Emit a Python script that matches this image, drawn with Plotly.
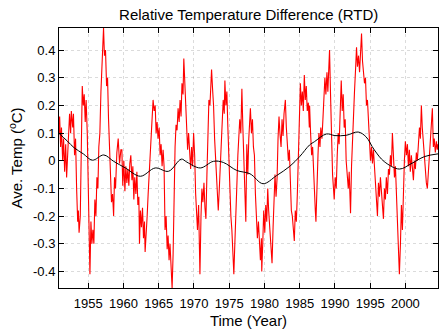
import plotly.graph_objects as go

# Monthly-resolution relative temperature difference (degC)
red_years = [
    1950.85, 1950.94, 1951.08, 1951.2, 1951.37, 1951.5, 1951.65, 1951.8, 1951.93, 1952.07,
    1952.2, 1952.35, 1952.5, 1952.6, 1952.8, 1952.9, 1953.06, 1953.2, 1953.35, 1953.5,
    1953.6, 1953.7, 1953.87, 1954.0, 1954.15, 1954.3, 1954.43, 1954.57, 1954.7, 1954.86,
    1955.0, 1955.15, 1955.24, 1955.38, 1955.52, 1955.66, 1955.8, 1955.94, 1956.09, 1956.23,
    1956.37, 1956.5, 1956.65, 1956.8, 1956.94, 1957.08, 1957.17, 1957.3, 1957.45, 1957.6,
    1957.74, 1957.88, 1958.0, 1958.17, 1958.3, 1958.45, 1958.6, 1958.73, 1958.87, 1959.06,
    1959.25, 1959.44, 1959.63, 1959.77, 1959.9, 1960.05, 1960.2, 1960.33, 1960.48, 1960.62,
    1960.76, 1960.9, 1961.04, 1961.2, 1961.33, 1961.47, 1961.6, 1961.76, 1961.9, 1962.04,
    1962.18, 1962.27, 1962.4, 1962.55, 1962.7, 1962.84, 1962.98, 1963.07, 1963.2, 1963.36,
    1963.5, 1963.64, 1963.78, 1963.92, 1964.06, 1964.2, 1964.35, 1964.5, 1964.63, 1964.77,
    1964.9, 1965.06, 1965.2, 1965.34, 1965.48, 1965.62, 1965.76, 1965.9, 1966.05, 1966.2,
    1966.33, 1966.47, 1966.6, 1966.75, 1966.9, 1967.04, 1967.18, 1967.32, 1967.46, 1967.6,
    1967.75, 1967.9, 1968.03, 1968.17, 1968.3, 1968.45, 1968.56, 1968.68, 1968.82, 1968.96,
    1969.1, 1969.24, 1969.39, 1969.53, 1969.67, 1969.8, 1969.95, 1970.1, 1970.24, 1970.38,
    1970.5, 1970.66, 1970.76, 1970.85, 1971.0, 1971.13, 1971.27, 1971.42, 1971.56, 1971.7,
    1971.84, 1971.98, 1972.12, 1972.27, 1972.4, 1972.5, 1972.64, 1972.78, 1972.93, 1973.07,
    1973.2, 1973.35, 1973.45, 1973.6, 1973.73, 1973.87, 1974.0, 1974.15, 1974.3, 1974.39,
    1974.53, 1974.67, 1974.8, 1974.96, 1975.1, 1975.24, 1975.38, 1975.52, 1975.66, 1975.8,
    1975.95, 1976.1, 1976.23, 1976.37, 1976.5, 1976.65, 1976.8, 1976.94, 1977.08, 1977.22,
    1977.36, 1977.5, 1977.64, 1977.78, 1977.92, 1978.01, 1978.16, 1978.3, 1978.44, 1978.58,
    1978.72, 1978.86, 1979.0, 1979.15, 1979.29, 1979.43, 1979.57, 1979.62, 1979.76, 1979.9,
    1980.05, 1980.19, 1980.33, 1980.47, 1980.6, 1980.76, 1980.9, 1981.08, 1981.23, 1981.37,
    1981.5, 1981.65, 1981.8, 1981.93, 1982.07, 1982.2, 1982.36, 1982.5, 1982.64, 1982.78,
    1982.97, 1983.11, 1983.25, 1983.4, 1983.54, 1983.68, 1983.82, 1983.96, 1984.1, 1984.24,
    1984.38, 1984.53, 1984.67, 1984.8, 1984.95, 1985.1, 1985.24, 1985.38, 1985.52, 1985.66,
    1985.8, 1985.94, 1986.08, 1986.23, 1986.37, 1986.41, 1986.55, 1986.7, 1986.84, 1986.98,
    1987.12, 1987.22, 1987.31, 1987.45, 1987.6, 1987.73, 1987.88, 1988.0, 1988.16, 1988.3,
    1988.44, 1988.58, 1988.72, 1988.87, 1989.0, 1989.15, 1989.24, 1989.38, 1989.53, 1989.67,
    1989.8, 1989.9, 1990.05, 1990.19, 1990.33, 1990.47, 1990.6, 1990.75, 1990.9, 1991.04,
    1991.18, 1991.32, 1991.46, 1991.6, 1991.74, 1991.9, 1992.03, 1992.12, 1992.22, 1992.36,
    1992.5, 1992.64, 1992.78, 1992.93, 1993.07, 1993.2, 1993.35, 1993.5, 1993.63, 1993.78,
    1993.92, 1994.06, 1994.2, 1994.34, 1994.48, 1994.62, 1994.77, 1994.9, 1995.05, 1995.2,
    1995.33, 1995.47, 1995.6, 1995.76, 1995.9, 1996.04, 1996.18, 1996.32, 1996.46, 1996.6,
    1996.75, 1996.89, 1997.03, 1997.17, 1997.3, 1997.46, 1997.6, 1997.74, 1997.88, 1998.02,
    1998.16, 1998.3, 1998.45, 1998.59, 1998.73, 1998.87, 1999.0, 1999.15, 1999.3, 1999.44,
    1999.58, 1999.72, 1999.86, 2000.0, 2000.15, 2000.29, 2000.43, 2000.57, 2000.7, 2000.85,
    2001.0, 2001.14, 2001.28, 2001.42, 2001.56, 2001.7, 2001.85, 2002.0, 2002.13, 2002.27,
    2002.4, 2002.55, 2002.7, 2002.84, 2002.98, 2003.12, 2003.26, 2003.4, 2003.55, 2003.7,
    2003.83, 2003.97, 2004.1, 2004.25, 2004.4, 2004.53, 2004.63,
]
red_values = [
    0.10, 0.16, 0.05, 0.12, 0.00, 0.08, -0.04, 0.06, -0.06, 0.02,
    0.09, 0.17, 0.10, 0.18, 0.12, 0.17, 0.02, 0.08, -0.10, -0.22,
    -0.18, -0.26, -0.20, 0.05, 0.27, 0.20, 0.24, 0.14, 0.22, 0.10,
    -0.12, -0.33, -0.41, -0.22, -0.30, -0.25, -0.30, -0.14, -0.20, -0.06,
    -0.10, 0.05, 0.10, 0.25, 0.33, 0.45, 0.48, 0.38, 0.40, 0.27,
    0.30, 0.15, 0.05, -0.05, -0.15, -0.12, -0.20, -0.06, -0.10, 0.03,
    0.08, -0.01, 0.04, 0.04, -0.09, 0.00, -0.11, -0.02, -0.08, -0.03,
    -0.09, -0.01, 0.02, -0.07, -0.02, -0.14, -0.06, -0.12, -0.04, -0.16,
    -0.13, -0.30, -0.18, -0.24, -0.17, -0.28, -0.22, -0.33, -0.24, -0.20,
    -0.12, -0.05, 0.05, 0.13, 0.16, 0.22, 0.18, 0.20, 0.10, 0.14,
    0.08, 0.12, 0.02, 0.06, -0.02, 0.04, -0.02, -0.25, -0.20, -0.32,
    -0.27, -0.36, -0.30, -0.37, -0.46, -0.34, -0.10, 0.05, 0.13, 0.11,
    0.19, 0.14, 0.22, 0.16, 0.28, 0.24, 0.37, 0.30, 0.22, 0.12,
    0.04, 0.10, 0.00, -0.03, 0.05, -0.02, 0.10, 0.02, -0.12, -0.18,
    -0.25, -0.16, -0.30, -0.41, -0.20, -0.10, -0.15, -0.08, -0.17, -0.21,
    -0.05, 0.10, 0.22, 0.20, 0.29, 0.33, 0.26, 0.20, 0.08, 0.00,
    -0.08, -0.12, -0.18, -0.10, -0.02, 0.10, 0.15, 0.22, 0.17, 0.29,
    0.20, 0.25, 0.13, 0.00, -0.12, -0.20, -0.25, -0.32, -0.41, -0.30,
    -0.15, -0.08, 0.02, 0.09, 0.15, 0.10, 0.26, 0.12, 0.00, -0.12,
    -0.22, 0.06, -0.05, 0.08, 0.13, 0.19, 0.10, 0.15, 0.05, 0.02,
    -0.12, -0.20, -0.28, -0.22, -0.30, -0.36, -0.28, -0.40, -0.30, -0.18,
    -0.26, -0.16, -0.22, -0.10, -0.18, -0.24, -0.30, -0.37, -0.24, -0.12,
    -0.05, -0.13, -0.06, 0.08, 0.16, 0.10, 0.05, 0.15, 0.09, 0.17,
    0.22, 0.12, 0.07, 0.00, 0.04, -0.10, -0.18, -0.20, -0.26, -0.29,
    -0.18, -0.22, -0.12, -0.02, 0.10, 0.28, 0.20, 0.25, 0.18, 0.31,
    0.22, 0.27, 0.18, 0.21, 0.12, 0.20, 0.10, 0.02, 0.05, -0.06,
    -0.12, -0.18, -0.22, -0.05, 0.02, 0.10, 0.05, 0.12, 0.08, 0.15,
    0.22, 0.30, 0.24, 0.32, 0.25, 0.33, 0.40, 0.24, 0.05, -0.05,
    -0.10, -0.14, -0.06, -0.10, 0.02, 0.10, 0.06, 0.20, 0.29, 0.18,
    0.24, 0.12, 0.15, 0.00, -0.06, -0.10, -0.04, -0.13, -0.19, -0.02,
    0.10, 0.20, 0.25, 0.33, 0.41, 0.34, 0.38, 0.32, 0.40, 0.46,
    0.36, 0.33, 0.28, 0.30, 0.20, 0.22, 0.12, 0.06, 0.00, 0.05,
    -0.01, 0.04, -0.02, -0.10, -0.15, -0.20, -0.08, -0.13, -0.06, -0.12,
    -0.16, -0.21, -0.10, -0.14, -0.06, -0.12, -0.03, -0.05, 0.02, -0.02,
    0.10, 0.00, -0.06, -0.02, -0.12, -0.20, -0.26, -0.41, -0.30, -0.16,
    -0.25, -0.10, 0.00, 0.07, 0.02, 0.06, -0.02, 0.04, -0.04, 0.02,
    -0.05, -0.07, 0.00, -0.03, 0.03, 0.00, 0.06, 0.12, 0.08, 0.20,
    0.12, 0.06, 0.02, -0.03, -0.08, -0.10, -0.04, 0.02, 0.08, 0.14,
    0.19, 0.05, 0.08, 0.03, 0.07, 0.04, 0.06,
]

# Low-pass trend of the same record
trend_years = [
    1950.85, 1952.0, 1953.0, 1954.3, 1955.6, 1957.2, 1958.6, 1960.27, 1962.4, 1964.5,
    1966.4, 1968.2, 1969.0, 1970.9, 1972.76, 1974.17, 1976.07, 1977.95, 1979.8, 1981.7,
    1983.6, 1985.0, 1986.4, 1987.1, 1988.8, 1990.0, 1991.6, 1993.3, 1994.4, 1995.6,
    1997.0, 1999.15, 2000.8, 2002.7, 2004.63,
]
trend_values = [
    0.099, 0.072, 0.047, 0.025, 0.002, 0.021, -0.002, -0.026, -0.056, -0.026,
    -0.038, 0.006, -0.005, -0.026, -0.002, -0.006, -0.035, -0.047, -0.083, -0.054,
    -0.020, 0.015, 0.057, 0.069, 0.097, 0.091, 0.092, 0.104, 0.087, 0.039,
    -0.003, -0.030, -0.011, 0.015, 0.025,
]

x_ticks = [1955, 1960, 1965, 1970, 1975, 1980, 1985, 1990, 1995, 2000]
y_ticks = [-0.4, -0.3, -0.2, -0.1, 0, 0.1, 0.2, 0.3, 0.4]
y_tick_text = ["-0.4", "-0.3", "-0.2", "-0.1", "0", "0.1", "0.2", "0.3", "0.4"]

fig = go.Figure()
fig.add_trace(go.Scatter(
    x=red_years, y=red_values, mode="lines",
    line=dict(color="#ff0000", width=1.1), showlegend=False,
))
fig.add_trace(go.Scatter(
    x=trend_years, y=trend_values, mode="lines",
    line=dict(color="#000000", width=1, shape="spline", smoothing=1),
    showlegend=False,
))

font_family = "Liberation Sans, Arial, Helvetica, sans-serif"
axis_common = dict(
    showline=True, linecolor="black", linewidth=1, mirror="ticks",
    ticks="inside", ticklen=5, tickcolor="black", tickwidth=1,
    showgrid=True, gridcolor="rgba(0,0,0,0.14)", griddash="dot", gridwidth=1,
    zeroline=False, tickfont=dict(size=13, color="black", family=font_family),
)

fig.update_layout(
    width=439, height=334,
    margin=dict(l=59, r=1, t=28, b=46),
    paper_bgcolor="white", plot_bgcolor="white",
    font=dict(family=font_family, color="black"),
    title=dict(
        text="Relative Temperature Difference (RTD)",
        x=0.5665, xanchor="center", y=1 - 15 / 334, yref="container", yanchor="middle",
        font=dict(size=15, color="black", family=font_family),
    ),
    xaxis=dict(
        range=[min(red_years), max(red_years)],
        tickvals=x_ticks, ticklabelstandoff=3,
        title=dict(text="Time (Year)", font=dict(size=15), standoff=5),
        **axis_common,
    ),
    yaxis=dict(
        range=[min(red_values), max(red_values)],
        tickvals=y_ticks, ticktext=y_tick_text,
        title=dict(text="Ave. Temp (<sup>o</sup>C)", font=dict(size=15), standoff=6),
        **axis_common,
    ),
)

fig.write_html("out.html")
